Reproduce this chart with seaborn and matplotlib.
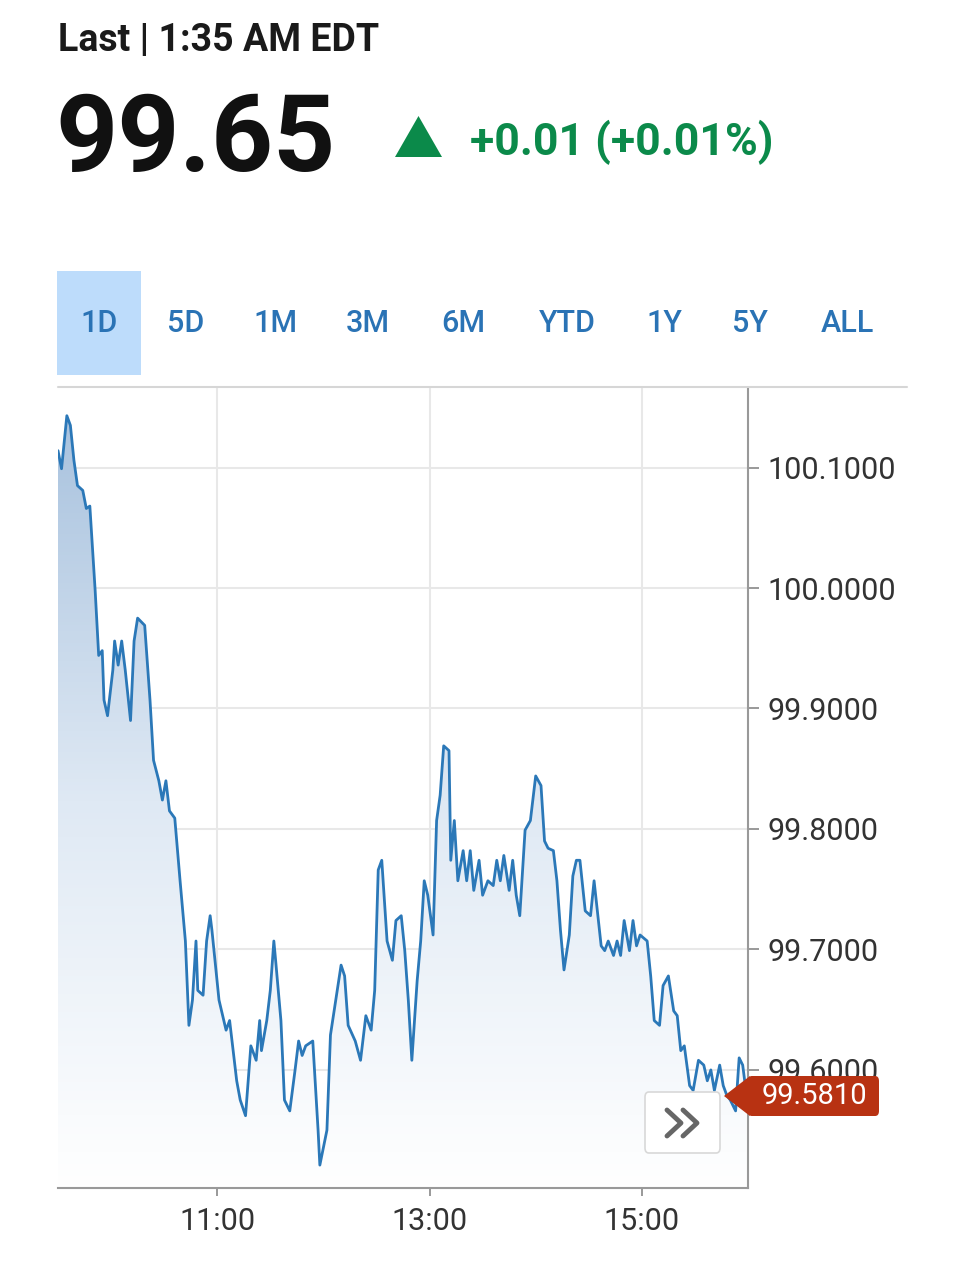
import numpy as np
import pandas as pd
import matplotlib
matplotlib.use("Agg")
import matplotlib.pyplot as plt
import seaborn as sns
from matplotlib.patches import Polygon, FancyBboxPatch, Rectangle
from matplotlib.colors import LinearSegmentedColormap

# minutes after 9:30
minutes = [0,2,5,7,9,11,14,16,18,21,23,25,26,28,31,32,34,36,38,41,43,45,49,52,54,57,59,61,63,66,
           69,72,74,76,78,79,82,84,86,87,91,95,97,101,103,106,109,112,114,115,118,120,122,123,126,128,131,134,136,138,
           140,144,147,148,152,154,157,160,162,164,168,171,174,177,179,181,183,186,189,191,194,196,198,200,203,205,207,209,212,214,
           216,218,221,222,224,226,229,231,233,235,238,240,243,246,248,250,252,255,257,259,261,264,267,270,273,275,277,280,282,284,
           286,289,291,293,295,298,301,303,307,309,311,314,316,318,320,323,325,327,329,333,335,337,340,342,345,348,350,352,354,357,
           359,362,365,367,369,371,374,376,378,380,383,385,387,389]
prices = [100.114,100.099,100.143,100.135,100.106,100.085,100.081,100.066,100.068,99.998,99.944,99.948,99.907,99.894,99.932,99.956,99.936,99.956,99.932,99.890,
          99.956,99.975,99.969,99.907,99.857,99.840,99.824,99.840,99.815,99.809,99.757,99.707,99.637,99.658,99.707,99.666,99.662,99.707,99.728,99.716,
          99.658,99.633,99.641,99.591,99.575,99.562,99.620,99.608,99.641,99.616,99.641,99.666,99.707,99.691,99.641,99.575,99.566,99.600,99.624,99.612,
          99.620,99.624,99.550,99.521,99.550,99.629,99.658,99.687,99.678,99.637,99.624,99.608,99.645,99.633,99.666,99.766,99.774,99.707,99.691,99.724,
          99.728,99.699,99.658,99.608,99.674,99.707,99.757,99.745,99.712,99.807,99.828,99.869,99.865,99.774,99.807,99.757,99.782,99.757,99.782,99.749,
          99.774,99.745,99.757,99.753,99.774,99.757,99.778,99.749,99.774,99.745,99.728,99.799,99.807,99.844,99.836,99.790,99.784,99.782,99.757,99.716,
          99.683,99.712,99.761,99.774,99.774,99.732,99.728,99.757,99.703,99.699,99.707,99.695,99.707,99.695,99.724,99.699,99.724,99.703,99.712,99.707,
          99.678,99.641,99.637,99.670,99.678,99.649,99.645,99.616,99.620,99.587,99.583,99.608,99.604,99.591,99.600,99.583,99.604,99.587,99.579,99.575,
          99.566,99.610,99.604,99.581]
assert len(minutes) == len(prices), (len(minutes), len(prices))

yticks = [99.6, 99.7, 99.8, 99.9, 100.0, 100.1]
xticks = [11, 13, 15]
xtick_labels = ["11:00", "13:00", "15:00"]
tabs = ["1D", "5D", "1M", "3M", "6M", "YTD", "1Y", "5Y", "ALL"]
last_label = "99.5810"

df = pd.DataFrame({"hour": 9.5 + np.array(minutes) / 60.0, "price": prices})

sns.set_theme(style="white")
plt.rcParams["font.family"] = ["Roboto", "DejaVu Sans"]

fig = plt.figure(figsize=(9.65, 12.8), dpi=100)
W, H = 965, 1280
def fx(x): return x / W
def fy(y): return 1 - y / H

ax = fig.add_axes([fx(58), fy(1188), fx(748) - fx(58), fy(388) - fy(1188)])
xmin, xmax = 9.5, 16.0
ymin, ymax = 99.502, 100.166
ax.set_xlim(xmin, xmax)
ax.set_ylim(ymin, ymax)

# gradient fill
cmap = LinearSegmentedColormap.from_list("g", ["#ffffff", "#dfe9f4", "#a8c2de"])
grad = np.linspace(0, 1, 256).reshape(-1, 1)
im = ax.imshow(grad, extent=[xmin, xmax, ymin, 100.145], origin="lower", aspect="auto",
               cmap=cmap, zorder=1)
poly = Polygon(list(zip(df["hour"], df["price"])) + [(df["hour"].iloc[-1], ymin), (df["hour"].iloc[0], ymin)],
               closed=True, transform=ax.transData, facecolor="none", edgecolor="none")
ax.add_patch(poly)
im.set_clip_path(poly)

sns.lineplot(data=df, x="hour", y="price", ax=ax, color="#2b78b8", linewidth=2.0, zorder=3)

ax.set_xticks(xticks)
ax.set_xticklabels(xtick_labels)
ax.set_yticks(yticks)
ax.set_yticklabels([f"{v:.4f}" for v in yticks])
ax.yaxis.tick_right()
ax.set_xlabel("")
ax.set_ylabel("")
ax.grid(True, color="#e8e8e8", linewidth=1.5, zorder=0)
ax.set_axisbelow(True)
ax.tick_params(axis="y", which="both", right=True, length=8, width=1.2, color="#888888",
               labelsize=22, labelcolor="#333333", pad=6)
ax.tick_params(axis="x", which="both", bottom=True, length=6, width=1.2, color="#888888",
               labelsize=22, labelcolor="#333333", pad=8)
for s in ["top", "left"]:
    ax.spines[s].set_visible(False)
for s in ["right", "bottom"]:
    ax.spines[s].set_color("#999999")
    ax.spines[s].set_linewidth(1.5)

# last price tag
tag_col = "#b83212"
fig.patches.append(FancyBboxPatch((fx(748), fy(1116)), fx(879) - fx(748), fy(1076) - fy(1116),
                                  boxstyle="round,pad=0,rounding_size=0.004", transform=fig.transFigure,
                                  fc=tag_col, ec="none", zorder=20))
fig.patches.append(Polygon([(fx(724), fy(1096)), (fx(750), fy(1076)), (fx(750), fy(1116))],
                           closed=True, transform=fig.transFigure, fc=tag_col, ec="none", zorder=20))
fig.text(fx(814), fy(1096), last_label, fontsize=21, color="white", ha="center", va="center", zorder=21)

# scroll button
fig.patches.append(FancyBboxPatch((fx(645), fy(1153)), fx(720) - fx(645), fy(1092) - fy(1153),
                                  boxstyle="round,pad=0,rounding_size=0.004", transform=fig.transFigure,
                                  fc="#ffffff", ec="#d8d8d8", lw=1.2, zorder=5))
for dx in (0, 16):
    fig.add_artist(plt.Line2D([fx(667 + dx), fx(681 + dx), fx(667 + dx)],
                              [fy(1110), fy(1123), fy(1136)], transform=fig.transFigure,
                              color="#666666", lw=3.5, zorder=6))

# header
fig.text(fx(58), fy(40), "Last | 1:35 AM EDT", fontsize=27, fontweight="bold", color="#1a1a1a",
         ha="left", va="center")
fig.text(fx(55), fy(141), "99.65", fontsize=78, fontweight="bold", color="#111111",
         ha="left", va="center")
fig.patches.append(Polygon([(fx(395), fy(157)), (fx(442), fy(157)), (fx(418.5), fy(116))],
                           closed=True, transform=fig.transFigure, fc="#0b8a4a", ec="none"))
fig.text(fx(470), fy(142), "+0.01 (+0.01%)", fontsize=32, fontweight="bold", color="#0b8a4a",
         ha="left", va="center")

# tabs
fig.patches.append(Rectangle((fx(57), fy(375)), fx(141) - fx(57), fy(271) - fy(375),
                             transform=fig.transFigure, fc="#bddcfb", ec="none"))
tab_x = [99, 186, 276, 368, 463, 567, 664, 750, 847]
for t, x in zip(tabs, tab_x):
    fig.text(fx(x), fy(323), t, fontsize=22, fontweight="medium", color="#2a73b5", ha="center", va="center")
fig.add_artist(plt.Line2D([fx(58), fx(907)], [fy(387), fy(387)], transform=fig.transFigure,
                          color="#d6d6d6", lw=1.5))

fig.savefig("out.png", dpi=100)
